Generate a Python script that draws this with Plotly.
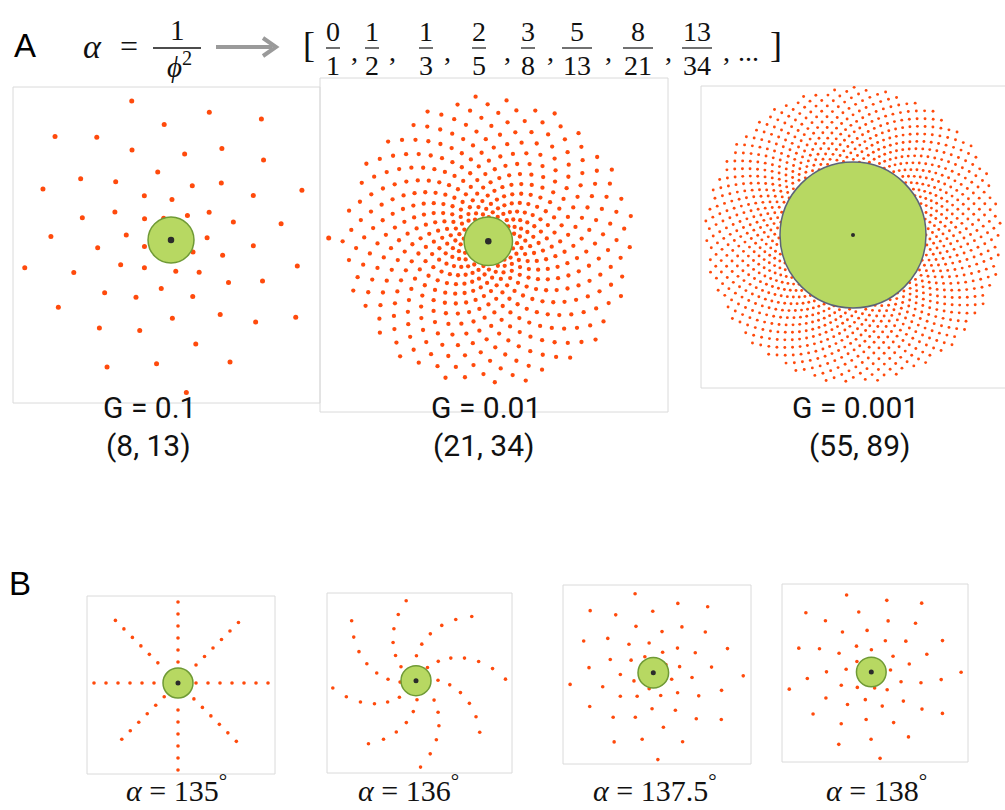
import numpy as np
import plotly.graph_objects as go

# ---------------- data ----------------
PANEL_NAMES = ["A1", "A2", "A3", "B1", "B2", "B3", "B4"]
DIVERGENCE_DEG = [137.50776, 137.50776, 137.50776, 135.0, 136.0, 137.5, 138.0]
GROWTH_G = [0.1, 0.01, 0.001, 0.1, 0.1, 0.1, 0.1]
N_PRIMORDIA = [62, 503, 1030, 49, 50, 51, 50]
FIRST_RADIUS = [1.036, 1.0, 1.0, 1.2, 1.067, 1.0, 1.087]   # in apex-radius units
FIRST_ANGLE_DEG = [108.7, 88.9, 0.0, 0.0, 185.0, 33.0, -78.2]
APEX_RADIUS = [1.04, 1.0, 1.0, 1.0, 1.0, 1.02, 0.99]

G_LABELS = ["G = 0.1", "G = 0.01", "G = 0.001"]
PARASTICHY_LABELS = ["(8, 13)", "(21, 34)", "(55, 89)"]
ALPHA_LABELS = ["135", "136", "137.5", "138"]
FRAC_NUM = ["0", "1", "1", "2", "3", "5", "8", "13"]
FRAC_DEN = ["1", "2", "3", "5", "8", "13", "21", "34"]

# ---------------- layout / style ----------------
W, H = 1005, 810
PAD = 14
PX_PER_UNIT = [22.1, 24.2, 73.0, 15.0, 15.0, 15.0, 15.0]
CENTER_PX = [(171, 240), (488.3, 241.3), (853, 235), (178, 683), (416, 680.7),
             (653.3, 672.7), (871.3, 672)]
FRAME_PX = [(13, 87, 320, 403), (320, 78, 668, 412), (701, 86, 1012, 388),
            (87, 596, 275, 774), (327, 593, 512, 773), (563, 585, 751, 764),
            (782, 584, 968, 762)]
DOT_SIZE = [5, 4.3, 2.9, 3.6, 3.6, 3.6, 3.6]
CENTER_DOT_PX = [6.5, 6.5, 4, 5, 5, 5, 5]
APEX_EDGE = ["#6f9a35", "#6f9a35", "#5b6377", "#6f9a35", "#6f9a35", "#6f9a35", "#6f9a35"]
DOT_COLOR = "#ff4a0c"
APEX_FILL = "#b7d862"
FRAME_COLOR = "#dadada"
SERIF = "Liberation Serif, DejaVu Serif, serif"
SANS = "Liberation Sans, Arial, sans-serif"
LABEL_FONT = "Roboto, Liberation Sans, sans-serif"


def px(x):
    return x / W


def py(y):
    return 1 - y / H


fig = go.Figure()
shapes = []
annotations = []
layout_axes = {}

for i, name in enumerate(PANEL_NAMES):
    k = "" if i == 0 else str(i + 1)
    s = PX_PER_UNIT[i]
    cx, cy = CENTER_PX[i]
    fx0, fy0, fx1, fy1 = FRAME_PX[i]
    # axis area a bit larger than the drawn frame, so nothing gets clipped
    ax0, ax1 = max(fx0 - PAD, 0), min(fx1 + PAD, W)
    ay0, ay1 = max(fy0 - PAD, 0), min(fy1 + PAD, H)
    n = np.arange(N_PRIMORDIA[i])
    r = FIRST_RADIUS[i] + GROWTH_G[i] * n
    th = np.radians(FIRST_ANGLE_DEG[i] - DIVERGENCE_DEG[i] * n)
    fig.add_trace(go.Scatter(
        x=r * np.cos(th), y=r * np.sin(th), mode="markers",
        marker=dict(size=DOT_SIZE[i], color=DOT_COLOR, line=dict(width=0)),
        xaxis="x" + k, yaxis="y" + k, cliponaxis=False, hoverinfo="skip",
        showlegend=False))
    layout_axes["xaxis" + k] = dict(
        domain=[px(ax0), px(ax1)], range=[(ax0 - cx) / s, (ax1 - cx) / s],
        visible=False, fixedrange=True, anchor="y" + k)
    layout_axes["yaxis" + k] = dict(
        domain=[py(ay1), py(ay0)], range=[(cy - ay1) / s, (cy - ay0) / s],
        visible=False, fixedrange=True, anchor="x" + k)
    # frame
    shapes.append(dict(type="rect", xref="paper", yref="paper",
                       x0=px(fx0), x1=px(fx1), y0=py(fy1), y1=py(fy0),
                       line=dict(color=FRAME_COLOR, width=1), layer="below"))
    R = APEX_RADIUS[i]
    shapes.append(dict(type="circle", xref="x" + k, yref="y" + k,
                       x0=-R, x1=R, y0=-R, y1=R, fillcolor=APEX_FILL,
                       line=dict(color=APEX_EDGE[i], width=1.5), layer="above"))
    c = CENTER_DOT_PX[i] / 2 / s
    shapes.append(dict(type="circle", xref="x" + k, yref="y" + k,
                       x0=-c, x1=c, y0=-c, y1=c, fillcolor="#2b2b2b",
                       line=dict(width=0), layer="above"))


def text(x, y, t, size, family, color="#111111", xanchor="center", yanchor="middle"):
    annotations.append(dict(x=px(x), y=py(y), xref="paper", yref="paper", text=t,
                            showarrow=False, xanchor=xanchor, yanchor=yanchor,
                            font=dict(size=size, family=family, color=color)))


# panel letters
text(25, 45, "A", 33, SANS, "#000000")
text(20, 583, "B", 33, SANS, "#000000")

# alpha = 1/phi^2
text(92, 46, "<i>α</i>", 34, SERIF)
text(129, 46, "=", 32, SERIF)
text(177, 30, "1", 29, SERIF)
shapes.append(dict(type="line", xref="paper", yref="paper", x0=px(153), x1=px(201),
                   y0=py(48), y1=py(48), line=dict(color="#111111", width=1.3)))
text(179, 65, "<i>ϕ</i><sup>2</sup>", 29, SERIF)

# arrow (shaft + chevron head)
shapes.append(dict(type="line", xref="paper", yref="paper", x0=px(216), x1=px(272),
                   y0=py(47), y1=py(47), line=dict(color="#9a9a9a", width=4)))
shapes.append(dict(type="path", xref="paper", yref="paper",
                   path="M %f,%f L %f,%f L %f,%f" % (px(263), py(38), px(276), py(47),
                                                      px(263), py(56)),
                   line=dict(color="#9a9a9a", width=4)))

# fraction sequence
FRAC_X = [333, 372, 426, 479, 528, 577, 638, 697]
COMMA_X = [354, 392, 447, 508, 550, 608, 668, 726]
text(309, 45, "[", 36, SERIF)
for j, (nu, de) in enumerate(zip(FRAC_NUM, FRAC_DEN)):
    x = FRAC_X[j]
    text(x, 31, nu, 28, SERIF)
    text(x, 65, de, 28, SERIF)
    half = 7 if max(len(nu), len(de)) == 1 else 15
    shapes.append(dict(type="line", xref="paper", yref="paper",
                       x0=px(x - half), x1=px(x + half), y0=py(48), y1=py(48),
                       line=dict(color="#111111", width=1.2)))
for cxp in COMMA_X:
    text(cxp, 51, ",", 28, SERIF)
text(748, 51, "...", 28, SERIF)
text(776, 45, "]", 36, SERIF)

# G labels
G_X = [149, 486, 855]
P_X = [148, 484, 860]
for j in range(3):
    text(G_X[j], 427, G_LABELS[j], 30, LABEL_FONT, yanchor="bottom")
    text(P_X[j], 426, PARASTICHY_LABELS[j], 30, LABEL_FONT, yanchor="top")

# alpha labels panel B
ALPHA_X = [176, 408, 655, 876]
for j, a in enumerate(ALPHA_LABELS):
    text(ALPHA_X[j], 809, "<i>α</i> = " + a + "<sup>°</sup>", 30, SERIF,
         yanchor="bottom")

fig.update_layout(
    width=W, height=H, autosize=False,
    margin=dict(l=0, r=0, t=0, b=0),
    paper_bgcolor="white", plot_bgcolor="rgba(0,0,0,0)",
    shapes=shapes, annotations=annotations, showlegend=False,
    **layout_axes)

fig.write_html("out.html", config={"displayModeBar": False})
